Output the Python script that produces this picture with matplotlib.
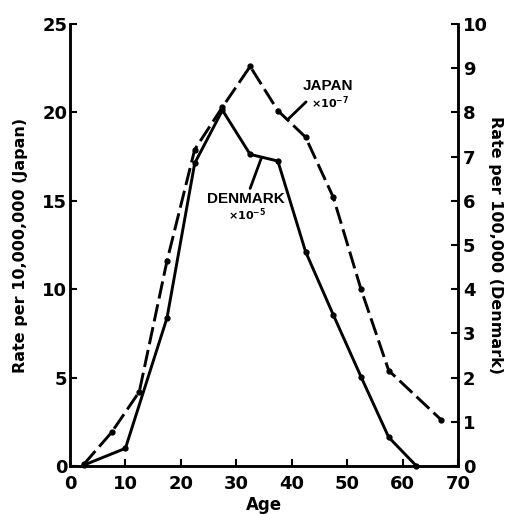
import matplotlib
matplotlib.use("Agg")
import matplotlib.pyplot as plt

plt.rcParams['font.family'] = ['DejaVu Sans']
plt.rcParams['font.weight'] = 'bold'

# Data
japan_age = [2.5, 7.5, 12.5, 17.5, 22.5, 27.5, 32.5, 37.5, 42.5, 47.5, 52.5, 57.5, 67]
japan_rate = [0.1, 1.9, 4.2, 11.6, 17.9, 20.3, 22.6, 20.1, 18.6, 15.2, 10.0, 5.4, 2.6]   # per 10,000,000
denmark_age = [2.5, 10, 17.5, 22.5, 27.5, 32.5, 37.5, 42.5, 47.5, 52.5, 57.5, 62.5]
denmark_rate = [0.02, 0.4, 3.35, 6.85, 8.05, 7.05, 6.9, 4.85, 3.42, 2.02, 0.65, 0.0]    # per 100,000

x_ticks = [0, 10, 20, 30, 40, 50, 60, 70]
left_ticks = [0, 5, 10, 15, 20, 25]
right_ticks = [0, 1, 2, 3, 4, 5, 6, 7, 8, 9, 10]

fig = plt.figure(figsize=(5.08, 5.14), dpi=100)
ax = fig.add_axes([70/508, 48/514, 388/508, 442/514])
ax2 = ax.twinx()

ax.plot(japan_age, japan_rate, color='black', lw=2.1, linestyle=(0, (6, 2)),
        marker='o', markersize=3.5, clip_on=False, zorder=3)
ax2.plot(denmark_age, denmark_rate, color='black', lw=2.1, linestyle='-',
         marker='o', markersize=3.5, clip_on=False, zorder=3)

ax.set_xlim(0, 70)
ax.set_ylim(0, 25)
ax2.set_ylim(0, 10)
ax.set_xticks(x_ticks)
ax.set_yticks(left_ticks)
ax2.set_yticks(right_ticks)

for a in (ax, ax2):
    a.spines['top'].set_visible(False)
    for s in a.spines.values():
        s.set_linewidth(1.8)

ax.tick_params(axis='x', direction='in', length=5, width=1.5, pad=6.5, labelsize=13)
ax.tick_params(axis='y', direction='in', length=5, width=1.5, pad=2, labelsize=13)
ax2.tick_params(axis='y', direction='in', length=5, width=1.5, pad=3.5, labelsize=13)

ax.set_xlabel('Age', fontsize=12, fontweight='bold', labelpad=2)
ax.set_ylabel('Rate per 10,000,000 (Japan)', fontsize=11.5, fontweight='bold', labelpad=10)
ax2.set_ylabel('Rate per 100,000 (Denmark)', fontsize=11.5, fontweight='bold',
               rotation=270, labelpad=11)

narrow = ['Liberation Sans']
ax.annotate('', xy=(39.3, 19.6), xytext=(42.6, 20.6),
            xycoords='data', textcoords='data',
            arrowprops=dict(arrowstyle='-', color='black', lw=2, shrinkA=0, shrinkB=0))
fig.text(328/508, 1 - 86/514, 'JAPAN', family=narrow, fontsize=11, fontweight='bold',
         ha='center', va='center')
fig.text(330/508, 1 - 103/514, r'$\times$10$^{-7}$', fontsize=8,
         ha='center', va='center')

ax.annotate('', xy=(34.5, 17.4), xytext=(32.5, 15.7),
            xycoords='data', textcoords='data',
            arrowprops=dict(arrowstyle='-', color='black', lw=2, shrinkA=0, shrinkB=0))
fig.text(246/508, 1 - 199/514, 'DENMARK', family=narrow, fontsize=11, fontweight='bold',
         ha='center', va='center')
fig.text(247/508, 1 - 215/514, r'$\times$10$^{-5}$', fontsize=8,
         ha='center', va='center')

fig.savefig('out.png', dpi=100)
